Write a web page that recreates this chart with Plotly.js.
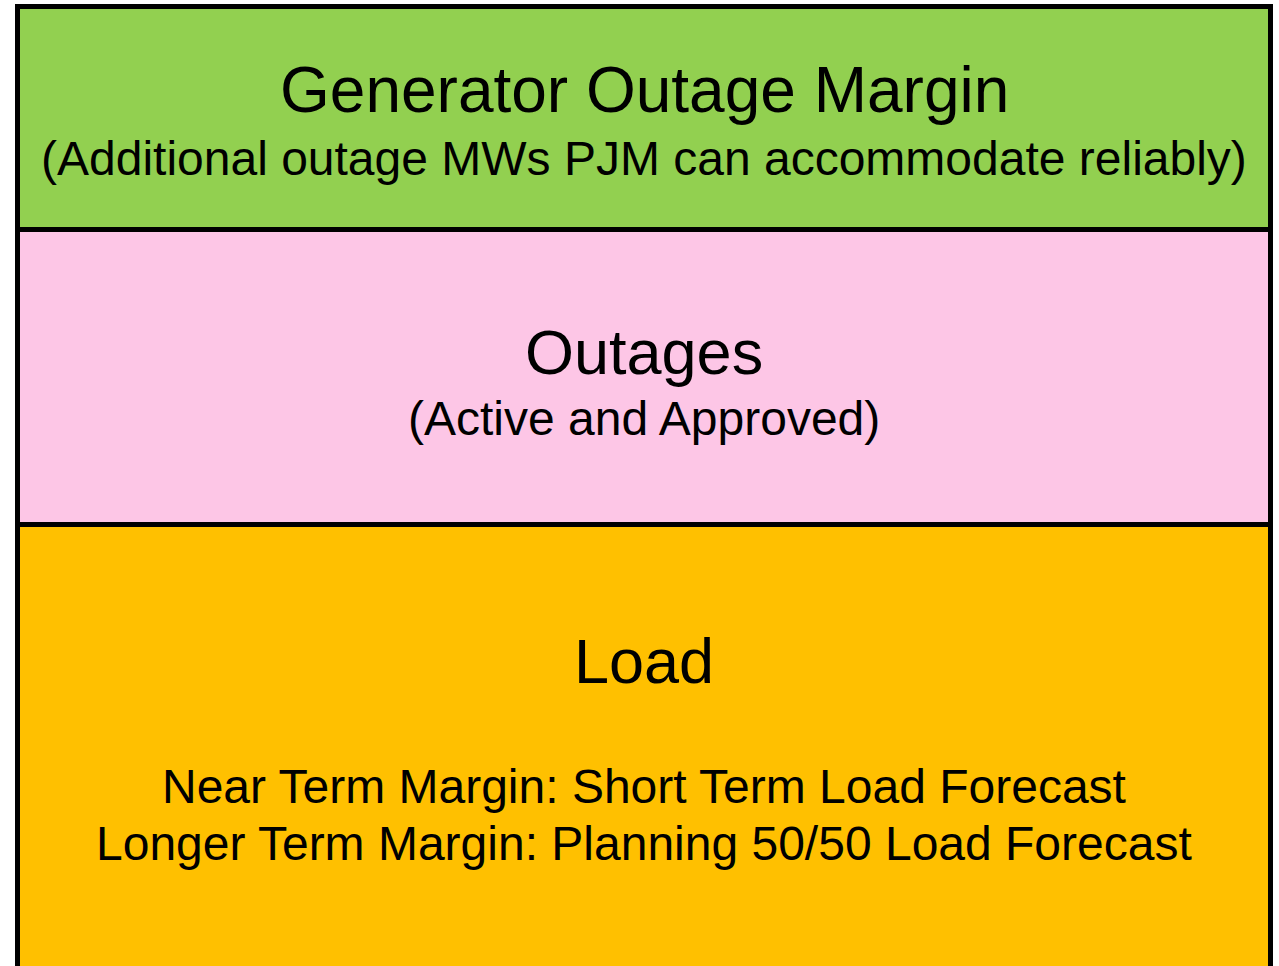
<!DOCTYPE html>
<html>
<head>
<meta charset="utf-8">
<script src="https://cdn.plot.ly/plotly-3.0.1.min.js"></script>
<style>
  html, body { margin: 0; padding: 0; background: #ffffff; }
  #chart { width: 1279px; height: 966px; }
</style>
</head>
<body>
<div id="chart"></div>
<script>
// ---- data ----
const categories = ['PJM'];
const segmentNames = ['Load', 'Outages', 'Generator Outage Margin'];
const segmentValues = [500, 295, 223];
const segmentColors = ['#FFC000', '#FDC6E6', '#92D050'];
const headingLines = ['Load', 'Outages', 'Generator Outage Margin'];
const detailLines = [
  ['Near Term Margin: Short Term Load Forecast', 'Longer Term Margin: Planning 50/50 Load Forecast'],
  ['(Active and Approved)'],
  ['(Additional outage MWs PJM can accommodate reliably)']
];

// ---- layout helpers ----
const W = 1279, H = 966;
const barLeftPx = 17.5, barRightPx = 1270.5;
const pxPerX = (barRightPx - barLeftPx) / 1;
const xRange = [-0.5 - barLeftPx / pxPerX, 0.5 + (W - barRightPx) / pxPerX];
const topPx = 6.5;
const total = segmentValues.reduce((a, b) => a + b, 0);
// 1 data unit = 1 px vertically
const yMax = total + topPx;
const yRange = [yMax - H, yMax];

const FONT = '"Liberation Sans", Arial, sans-serif';

const traces = segmentNames.map((name, i) => ({
  type: 'bar',
  name: name,
  x: categories,
  y: [segmentValues[i]],
  width: [1],
  marker: { color: segmentColors[i], line: { color: '#000000', width: 5 } },
  hoverinfo: 'skip',
  showlegend: false
}));

// label offsets (px below each segment top)
const headingShift = [136.5, 122, 83.5];
const headingSize = [63, 63, 64];
const detailShift = [[261.5, 318.5], [188.5], [151.5]];
const detailSize = 48;

const annotations = [];
let cum = 0;
segmentValues.forEach((v, i) => {
  cum += v;
  annotations.push({
    x: categories[0], y: cum, xref: 'x', yref: 'y',
    text: headingLines[i], showarrow: false,
    xanchor: 'center', yanchor: 'middle', yshift: -headingShift[i],
    font: { family: FONT, size: headingSize[i], color: '#000000' }
  });
  detailLines[i].forEach((t, j) => {
    annotations.push({
      x: categories[0], y: cum, xref: 'x', yref: 'y',
      text: t, showarrow: false,
      xanchor: 'center', yanchor: 'middle', yshift: -detailShift[i][j],
      font: { family: FONT, size: detailSize, color: '#000000' }
    });
  });
});

const layout = {
  width: W, height: H,
  margin: { l: 0, r: 0, t: 0, b: 0, pad: 0 },
  paper_bgcolor: '#ffffff',
  plot_bgcolor: '#ffffff',
  barmode: 'stack',
  bargap: 0,
  xaxis: { range: xRange, visible: false, fixedrange: true },
  yaxis: { range: yRange, visible: false, fixedrange: true },
  annotations: annotations,
  font: { family: FONT }
};

Plotly.newPlot('chart', traces, layout, { displayModeBar: false, staticPlot: true });
</script>
</body>
</html>
